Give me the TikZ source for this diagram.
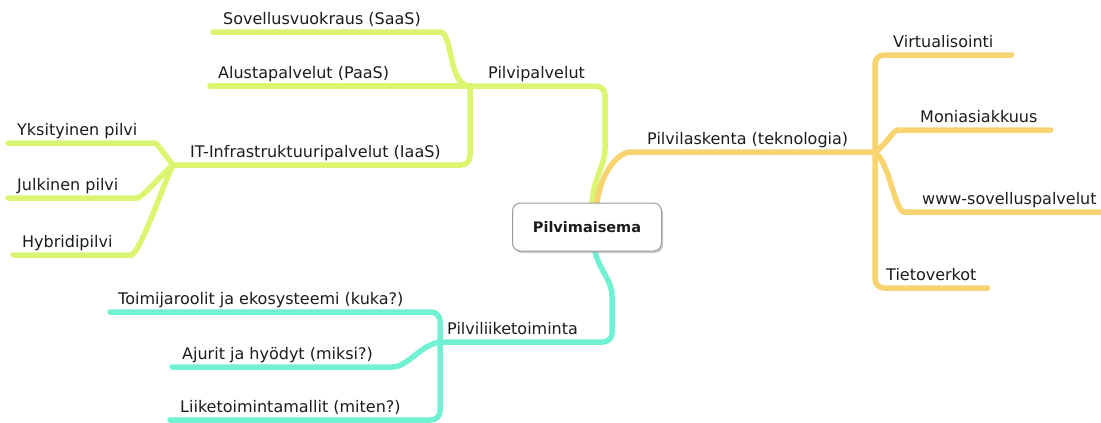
\documentclass[tikz,border=0pt]{standalone}
\usepackage{fontspec}
\setmainfont{DejaVu Sans}
\usetikzlibrary{shadows,backgrounds}

\definecolor{greenarmc}{RGB}{218,246,112}
\definecolor{orangearmc}{RGB}{248,212,112}
\definecolor{tealarmc}{RGB}{112,242,210}
\definecolor{inkc}{RGB}{28,28,28}

\begin{document}
\begin{tikzpicture}[x=1pt,y=-1pt,
    arm/.style={line width=5.5pt,line cap=round,line join=round,rounded corners=9pt},
    greenarm/.style={arm,draw=greenarmc},
    orangearm/.style={arm,draw=orangearmc},
    tealarm/.style={arm,draw=tealarmc},
    leaf/.style={anchor=south west,inner xsep=10pt,inner ysep=3pt,text height=12pt,text depth=4pt,
        font=\fontsize{16}{19}\selectfont,text=inkc},
    hub/.style={draw=black!40,line width=1pt,fill=white,rounded corners=8pt,
        minimum width=149pt,minimum height=48pt,text=inkc,
        font=\bfseries\fontsize{14.5}{17}\selectfont,
        drop shadow={shadow xshift=1.5pt,shadow yshift=-2pt,fill=black!40,opacity=.5}}]

    \useasboundingbox (0,0) rectangle (1101,423);

    % Central topic
    \node[hub] (hub) at (587,227) {Pilvimaisema};

    % Green topics: services
    \node[leaf,inner xsep=18pt] (pal) at (470,86) {Pilvipalvelut};
    \node[leaf] (saas) at (213,32) {Sovellusvuokraus (SaaS)};
    \node[leaf,inner xsep=8pt] (paas) at (210,86) {Alustapalvelut (PaaS)};
    \node[leaf,inner xsep=17pt] (iaas) at (173,165) {IT-Infrastruktuuripalvelut (IaaS)};
    \node[leaf,inner xsep=9pt] (yks) at (8,143) {Yksityinen pilvi};
    \node[leaf,inner xsep=9pt] (julk) at (8,198) {Julkinen pilvi};
    \node[leaf,inner xsep=9pt] (hyb) at (13,255) {Hybridipilvi};

    % Orange topics: technology
    \node[leaf,inner xsep=7pt] (lask) at (640,152) {Pilvilaskenta (teknologia)};
    \coordinate (tekjoin) at (875,152);
    \node[leaf,inner xsep=18pt] (virt) at (875,55) {Virtualisointi};
    \node[leaf,inner xsep=13pt] (moni) at (907,130) {Moniasiakkuus};
    \node[leaf,inner xsep=9pt] (www) at (913,212) {www-sovelluspalvelut};
    \node[leaf,inner xsep=11pt] (tiet) at (875,288) {Tietoverkot};

    % Teal topics: business
    \node[leaf,inner xsep=7pt] (liik) at (440,342) {Pilviliiketoiminta};
    \node[leaf,inner xsep=8pt] (toim) at (110,312) {Toimijaroolit ja ekosysteemi (kuka?)};
    \node[leaf] (ajur) at (172,367) {Ajurit ja hyödyt (miksi?)};
    \node[leaf] (malli) at (170,420) {Liiketoimintamallit (miten?)};

    \begin{scope}[on background layer]
    % Draw the green branch
    \draw[greenarm] ([xshift=5pt]hub.north) .. controls +(2,-25) and +(0,25) .. (605,140) |- (pal.south west);
    \draw[greenarm] (saas.south west) -- (saas.south east) .. controls +(22,0) and +(-22,0) .. (pal.south west);
    \draw[greenarm] (paas.south west) -- (pal.south west);
    \draw[greenarm] (pal.south west) |- (iaas.south west);
    \draw[greenarm] (yks.south west) -- (yks.south east) .. controls +(10,0) and +(-8,-10) .. (iaas.south west);
    \draw[greenarm] (julk.south west) -- (julk.south east) .. controls +(15,0) and +(-12,10) .. (iaas.south west);
    \draw[greenarm] (hyb.south west) -- (hyb.south east) .. controls +(18,0) and +(-12,25) .. (iaas.south west);

    % Draw the orange branch
    \draw[orangearm] ([xshift=10pt]hub.north) .. controls +(4,-30) and +(-22,0) .. (lask.south west) -- (tekjoin);
    \draw[orangearm] (tekjoin) |- (virt.south east);
    \draw[orangearm] (tekjoin) .. controls +(12,-8) and +(-14,0) .. (moni.south west) -- (moni.south east);
    \draw[orangearm] (tekjoin) .. controls +(15,12) and +(-18,0) .. (www.south west) -- (www.south east);
    \draw[orangearm] (tekjoin) |- (tiet.south east);

    % Draw the teal branch
    \draw[tealarm] ([xshift=8pt]hub.south) .. controls +(5,20) and +(0,-25) .. (612,305) |- (liik.south west);
    \draw[tealarm] (toim.south west) -| (liik.south west);
    \draw[tealarm] (ajur.south west) -- (ajur.south east) .. controls +(25,0) and +(-20,3) .. (liik.south west);
    \draw[tealarm] (malli.south west) -| (liik.south west);
    \end{scope}

\end{tikzpicture}
\end{document}
